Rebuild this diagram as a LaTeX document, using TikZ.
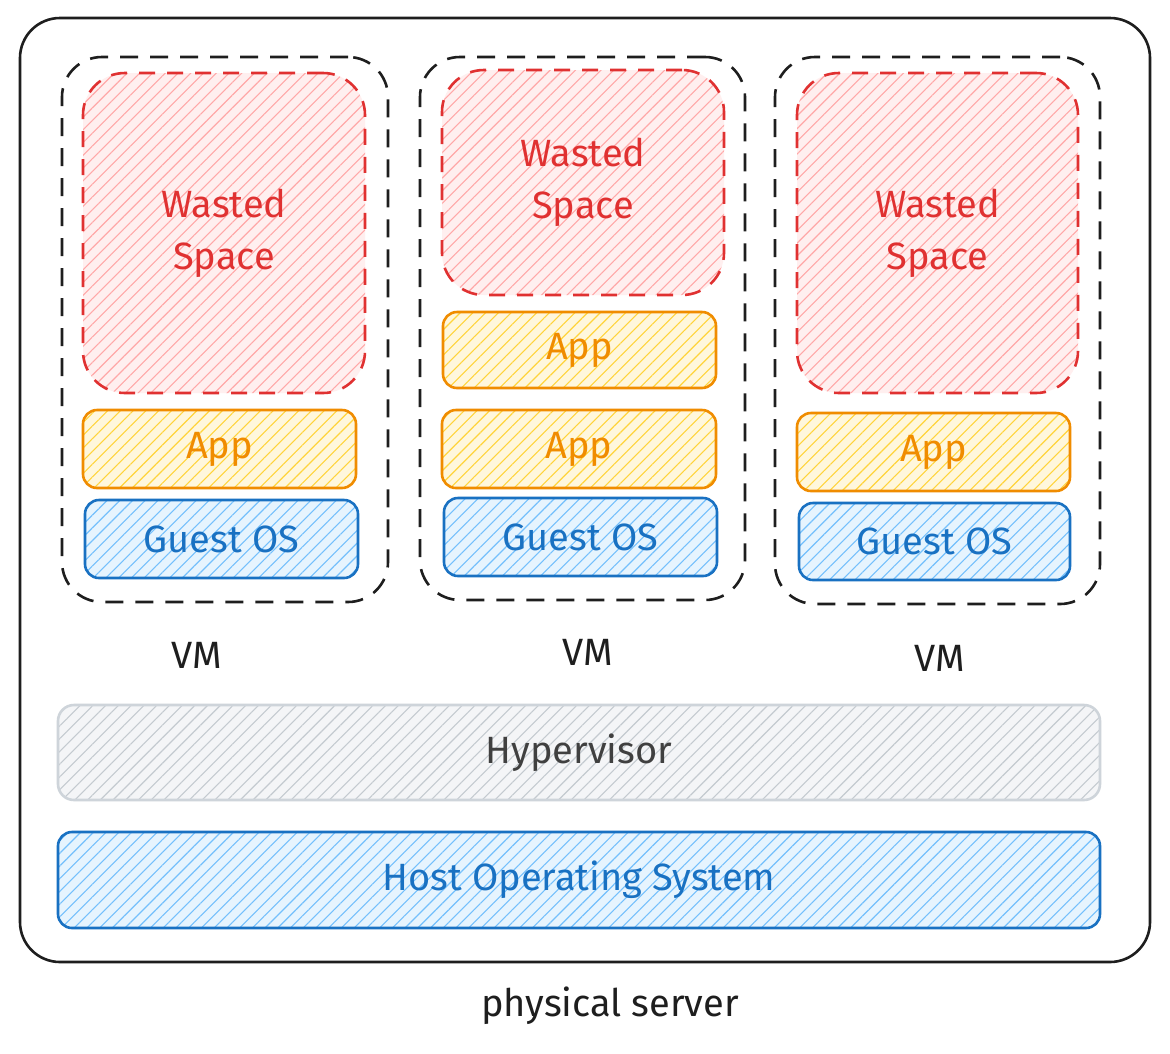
\documentclass[tikz,border=0pt]{standalone}
\usepackage{fontspec}
\setmainfont{Fira Sans}
\usetikzlibrary{patterns.meta}
\definecolor{redS}{HTML}{E03131}
\definecolor{redF}{HTML}{FFA8A8}
\definecolor{orgS}{HTML}{F08C00}
\definecolor{orgF}{HTML}{FFD43B}
\definecolor{bluS}{HTML}{1971C2}
\definecolor{bluF}{HTML}{74C0FC}
\definecolor{gryS}{HTML}{CED4DA}
\definecolor{gryF}{HTML}{C4CAD0}
\definecolor{ink}{HTML}{1E1E1E}
\tikzset{
  base/.style={inner sep=0pt, outer sep=0pt, align=center, font=\fontsize{38}{52}\selectfont},
  hatch/.style={preaction={fill=#1!18}, pattern={Lines[angle=45,distance=9pt,line width=1.1pt]}, pattern color=#1},
  serverbox/.style={base, draw=ink, line width=2.6pt, rounded corners=40pt},
  vmbox/.style={base, draw=ink, line width=2.6pt, dash pattern=on 18pt off 12pt, rounded corners=40pt},
  wastebox/.style={base, draw=redS, line width=2.6pt, dash pattern=on 16pt off 12pt, rounded corners=42pt, hatch=redF, text=redS},
  appbox/.style={base, draw=orgS, line width=2.6pt, rounded corners=14pt, hatch=orgF, text=orgS},
  osbox/.style={base, draw=bluS, line width=2.6pt, rounded corners=14pt, hatch=bluF, text=bluS},
  hypbox/.style={base, draw=gryS, line width=2.6pt, rounded corners=16pt, hatch=gryF, text=ink!85},
  lbl/.style={base, text=ink}
}
\begin{document}
\begin{tikzpicture}[x=1pt,y=-1pt]
\useasboundingbox[fill=white] (0,0) rectangle (1170,1053);
\node[serverbox, minimum width=1130pt, minimum height=944pt] (server) at (585,490) {};
% VMs
\node[vmbox, minimum width=326pt, minimum height=545pt] (vm1) at (225,329.5) {};
\node[vmbox, minimum width=325pt, minimum height=543pt] (vm2) at (582.5,328.5) {};
\node[vmbox, minimum width=325pt, minimum height=547pt] (vm3) at (937.5,330.5) {};
% wasted space
\node[wastebox, minimum width=282pt, minimum height=320pt] (ws1) at (224,233) {Wasted\\Space};
\node[wastebox, minimum width=282pt, minimum height=225pt] (ws2) at (583,182.5) {Wasted\\Space};
\node[wastebox, minimum width=281pt, minimum height=320pt] (ws3) at (937.5,233) {Wasted\\Space};
% apps
\node[appbox, minimum width=273pt, minimum height=78pt] (app1) at (219.5,449) {App};
\node[appbox, minimum width=273pt, minimum height=76pt] (app2a) at (579.5,350) {App};
\node[appbox, minimum width=274pt, minimum height=78pt] (app2b) at (579,449) {App};
\node[appbox, minimum width=273pt, minimum height=78pt] (app3) at (933.5,452) {App};
% guest OS
\node[osbox, minimum width=273pt, minimum height=78pt] (gos1) at (221.5,539) {Guest OS};
\node[osbox, minimum width=273pt, minimum height=78pt] (gos2) at (580.5,537) {Guest OS};
\node[osbox, minimum width=271pt, minimum height=77pt] (gos3) at (934.5,541.5) {Guest OS};
% VM labels
\node[lbl] (vml1) at (197,655) {VM};
\node[lbl] (vml2) at (588,652) {VM};
\node[lbl] (vml3) at (940,658) {VM};
% hypervisor & host
\node[hypbox, minimum width=1042pt, minimum height=95pt] (hyp) at (579,752.5) {Hypervisor};
\node[osbox, minimum width=1042pt, minimum height=96pt] (host) at (579,880) {Host Operating System};
\node[lbl] (phys) at (610,1006) {physical server};
\end{tikzpicture}
\end{document}
